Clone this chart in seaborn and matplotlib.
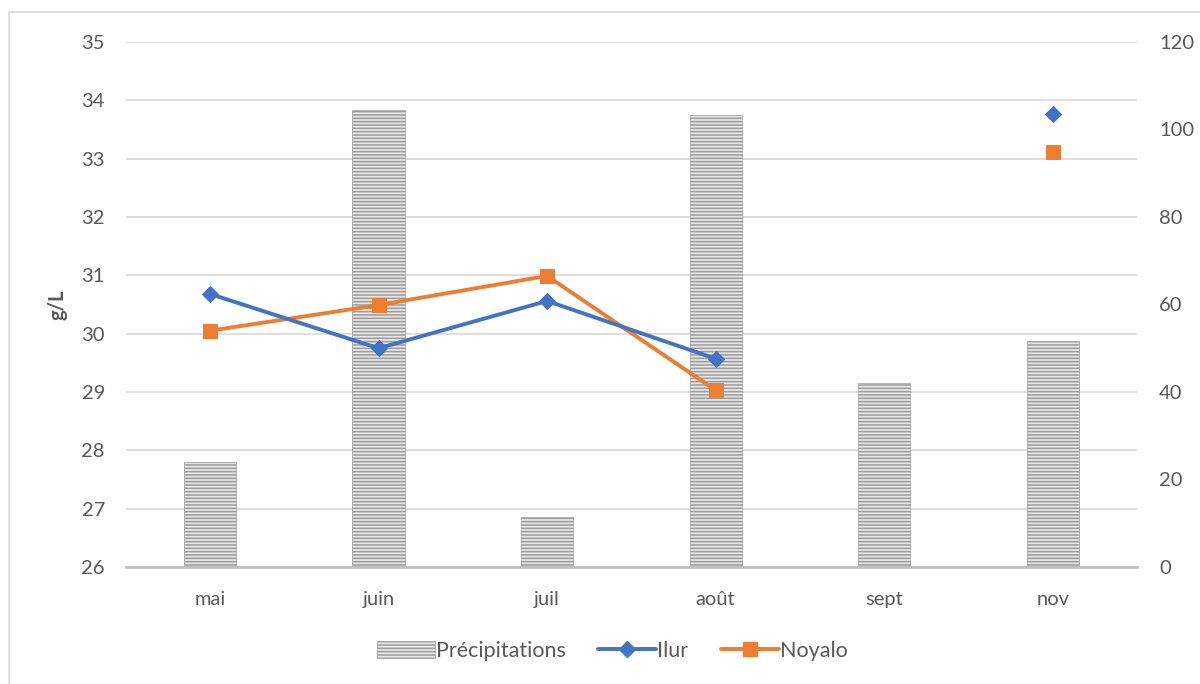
import numpy as np
import pandas as pd
import matplotlib
matplotlib.use("Agg")
import matplotlib.pyplot as plt
import seaborn as sns
from matplotlib.patches import Rectangle, Patch
from matplotlib.lines import Line2D
from matplotlib.ticker import FixedLocator

# Monthly data
months = ["mai", "juin", "juil", "août", "sept", "nov"]
precipitations = [24.0, 104.5, 11.4, 103.3, 42.0, 51.7]      # mm, right axis
ilur = [30.68, 29.75, 30.56, 29.57, np.nan, 33.77]           # g/L, left axis
noyalo = [30.05, 30.49, 30.99, 29.03, np.nan, 33.11]         # g/L, left axis

sns.set_theme(style="white")
plt.rcParams["font.family"] = ["Lato", "DejaVu Sans"]
plt.rcParams["hatch.linewidth"] = 1.1

TXT = "#595959"
GRID = "#d9d9d9"
BLUE = "#4472C4"
ORANGE = "#ED7D31"
FS = 14.5

fig = plt.figure(figsize=(12, 6.84), dpi=100)
ax = fig.add_axes([0.1048, 0.1711, 0.8427, 0.7675])

# Precipitation bars on the right-hand scale
pos = np.arange(len(months))
df_bar = pd.DataFrame({"x": pos, "p": precipitations})
sns.barplot(data=df_bar, x="x", y="p", ax=ax, width=0.31, native_scale=True,
            color="#e6e6e6", edgecolor="#9c9c9c", linewidth=0.5,
            hatch="-----", zorder=2)
ax.set_xlim(-0.5, len(months) - 0.5)
ax.set_ylim(0, 120)

# Salinity lines on the left-hand scale
ax2 = ax.twinx()
seg = [0, 0, 0, 0, 1, 1]
df_lines = pd.DataFrame({"x": pos, "ilur": ilur, "noyalo": noyalo, "seg": seg})
sns.lineplot(data=df_lines, x="x", y="ilur", units="seg", estimator=None, ax=ax2,
             color=BLUE, linewidth=2.8, marker="D", markersize=8.5,
             markeredgecolor=BLUE, zorder=4)
sns.lineplot(data=df_lines, x="x", y="noyalo", units="seg", estimator=None, ax=ax2,
             color=ORANGE, linewidth=2.8, marker="s", markersize=10,
             markeredgecolor=ORANGE, zorder=3)
ax2.set_ylim(26, 35)
ax2.set_yticks(np.arange(26, 36, 1))
ax2.yaxis.tick_left()
ax2.yaxis.set_label_position("left")
ax2.set_ylabel("g/L", fontsize=FS, fontweight="bold", color=TXT, labelpad=10)
ax2.tick_params(axis="y", length=0, labelsize=FS, labelcolor=TXT, pad=15)
ax2.set_xlabel("")
ax2.grid(False)
for s in ax2.spines.values():
    s.set_visible(False)
ax2.set_xlim(-0.5, len(months) - 0.5)

# Right-hand axis styling (after twinx, which resets tick sides)
ax.yaxis.tick_right()
ax.set_yticks(np.arange(0, 121, 20))
ax.yaxis.remove_overlapping_locs = False
ax.yaxis.set_minor_locator(FixedLocator(np.linspace(0, 120, 10)))
ax.grid(axis="y", which="minor", color=GRID, linewidth=1.2, zorder=0)
ax.grid(axis="y", which="major", visible=False)
ax.tick_params(axis="y", which="both", length=0, labelsize=FS, labelcolor=TXT, pad=16)
ax.set_xticks(pos)
ax.set_xticklabels(months)
ax.tick_params(axis="x", length=0, labelsize=FS, labelcolor=TXT, pad=17)
ax.set_xlabel("")
ax.set_ylabel("")
for s in ["top", "left", "right"]:
    ax.spines[s].set_visible(False)
ax.spines["bottom"].set_color("#bfbfbf")
ax.spines["bottom"].set_linewidth(2)
ax.spines["bottom"].set_zorder(5)

# Legend
handles = [
    Patch(facecolor="#e6e6e6", edgecolor="#9c9c9c", hatch="-----", linewidth=0.5),
    Line2D([0], [0], color=BLUE, linewidth=2.8, marker="D", markersize=8.5),
    Line2D([0], [0], color=ORANGE, linewidth=2.8, marker="s", markersize=10),
]
fig.legend(handles, ["Précipitations", "Ilur", "Noyalo"], loc="center",
           bbox_to_anchor=(0.51, 0.048), ncol=3, frameon=False, fontsize=15.5,
           labelcolor=TXT, handlelength=2.7, handleheight=0.85,
           handletextpad=0.05, columnspacing=1.5)

# Chart frame
fig.patches.append(Rectangle((9 / 1200, -0.05), 1.2, 1 - 12 / 684 + 0.05,
                             transform=fig.transFigure, fill=False,
                             edgecolor="#d9d9d9", linewidth=1.2))

fig.savefig("out.png", dpi=100)
